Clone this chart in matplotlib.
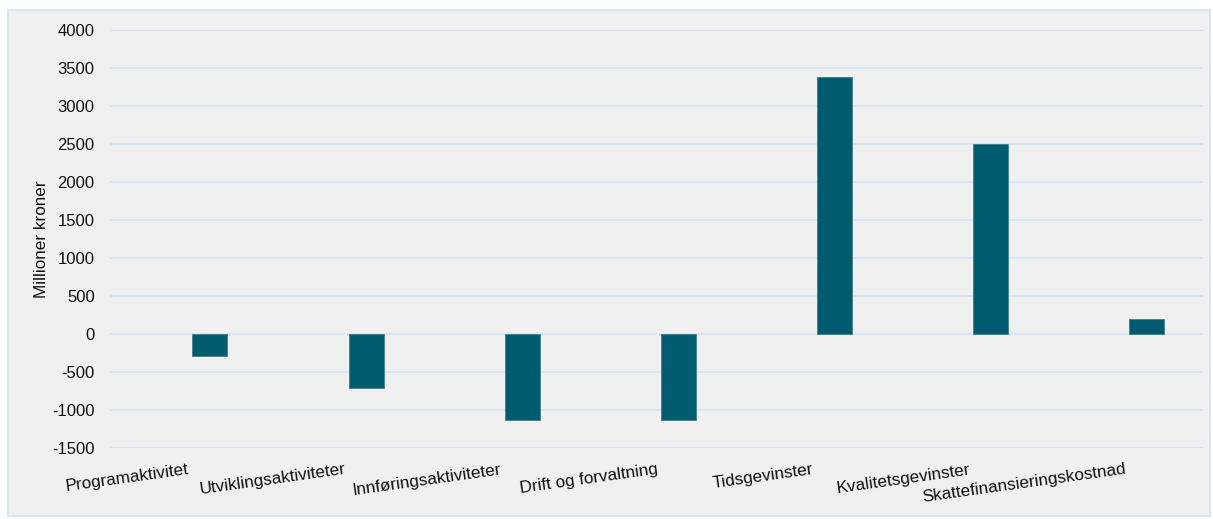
import matplotlib
matplotlib.use("Agg")
import matplotlib.pyplot as plt
from matplotlib.patches import Rectangle

categories = [
    "Programaktivitet",
    "Utviklingsaktiviteter",
    "Innføringsaktiviteter",
    "Drift og forvaltning",
    "Tidsgevinster",
    "Kvalitetsgevinster",
    "Skattefinansieringskostnad",
]
values = [-285, -705, -1130, -1130, 3380, 2500, 195]
yticks = list(range(-1500, 4001, 500))

BAR_COLOR = "#005b6e"
GRID_COLOR = "#d5e5f8"
PANEL_COLOR = "#f0f0f0"

plt.rcParams["font.family"] = ["Liberation Sans", "DejaVu Sans"]

fig = plt.figure(figsize=(12.13, 5.19), dpi=100)
fig.patch.set_facecolor("white")
panel = Rectangle((8 / 1213, 3 / 519), 1202 / 1213, 506 / 519,
                  transform=fig.transFigure, facecolor=PANEL_COLOR,
                  edgecolor="#d6e6f6", linewidth=1.5, zorder=-10)
fig.add_artist(panel)

ax = fig.add_axes([110 / 1213, 1 - 448 / 519, 1093 / 1213, 418 / 519])
ax.set_facecolor("none")
ax.set_zorder(1)

xs = [i + 0.14 for i in range(len(categories))]
ax.bar(xs, values, width=0.225, color=BAR_COLOR, edgecolor="#3f7f8e",
       linewidth=0.6, zorder=3)

ax.set_xlim(-0.5, len(categories) - 0.5)
ax.set_ylim(-1500, 4000)
ax.set_yticks(yticks)
ax.set_yticklabels([str(v) for v in yticks])
ax.yaxis.grid(True, color=GRID_COLOR, linewidth=1.4, zorder=0)
ax.set_axisbelow(True)
for spine in ax.spines.values():
    spine.set_visible(False)

ax.set_xticks(range(len(categories)))
ax.set_xticklabels(categories, rotation=8, ha="right", va="top",
                   rotation_mode="anchor")
ax.tick_params(axis="x", length=0, pad=10, labelsize=12.3, labelcolor="#111111")
ax.tick_params(axis="y", length=0, pad=11, labelsize=12, labelcolor="#111111")
ax.set_ylabel("Millioner kroner", fontsize=12.3, color="#111111")
ax.yaxis.set_label_coords(-0.056, 0.5)

fig.savefig("out.png", dpi=100, facecolor="white")
